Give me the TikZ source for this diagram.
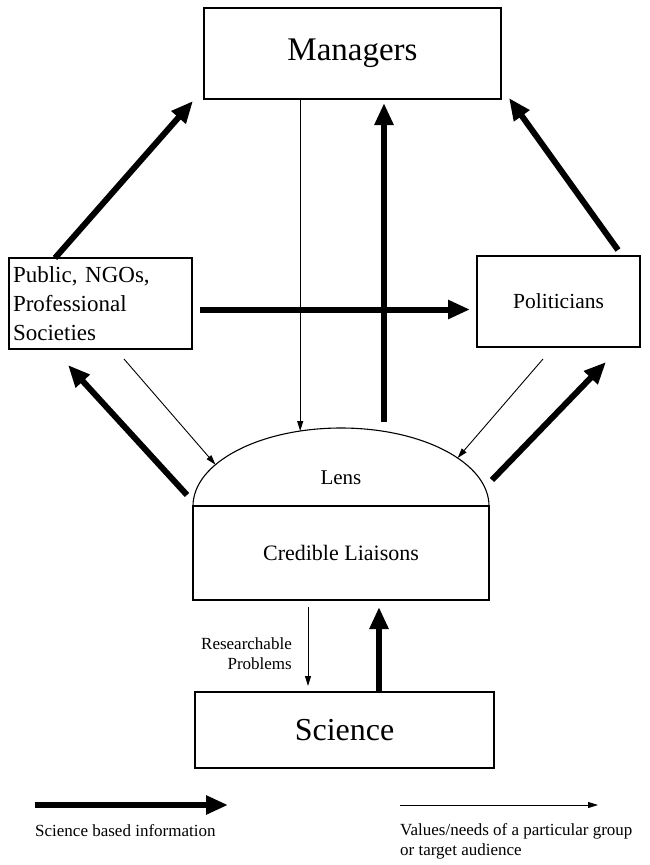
\documentclass[tikz,border=0pt]{standalone}
\usepackage{fontspec}
\setmainfont{Liberation Serif}
\usetikzlibrary{arrows.meta,positioning,calc}

\begin{document}
\begin{tikzpicture}[x=1pt, y=-1pt,
    block/.style={rectangle, draw, line width=1.1pt, outer sep=0pt, inner sep=4pt},
    fatline/.style={draw, line width=6pt, -{Triangle[length=22pt,width=18pt]}},
    thinline/.style={draw, line width=0.9pt, -{Triangle[length=10pt,width=6pt]}}]

    \useasboundingbox (0,0) rectangle (650,865);

    \node [block, minimum width=297pt, minimum height=91pt, font=\fontsize{33}{40}\selectfont] (mgr) at (352.5,53.5) {Managers};
    \node [block, minimum width=183pt, minimum height=91pt, text width=175pt, align=left, font=\fontsize{23}{29}\selectfont] (pub) at (100.5,303.5) {Public, NGOs,\\Professional\\Societies};
    \node [block, minimum width=163pt, minimum height=91pt, font=\fontsize{21.5}{26}\selectfont] (pol) at (558.5,301.5) {Politicians};
    \node [block, minimum width=296pt, minimum height=94pt, font=\fontsize{22}{26}\selectfont] (liaison) at (341,553) {Credible Liaisons};
    \node [block, minimum width=299pt, minimum height=76pt, font=\fontsize{32}{38}\selectfont] (sci) at (344.5,730) {Science};

    % lens on top of the liaisons
    \draw [line width=1.1pt] (liaison.north west) arc [start angle=180, end angle=0, x radius=148pt, y radius=78pt];
    \node [font=\fontsize{21}{25}\selectfont] (lens) at (341,478) {Lens};

    \coordinate (lensA) at ($(liaison.north)+({148*cos(106)},{-78*sin(106)})$);
    \coordinate (lensB) at ($(liaison.north)+({148*cos(148)},{-78*sin(148)})$);
    \coordinate (lensC) at ($(liaison.north)+({148*cos(38)},{-78*sin(38)})$);
    \coordinate (upA) at ($(liaison.north)+(43,-84)$);

    \path [fatline] ($(pub.north west)+(46,0)$) -- ($(mgr.south west)+(-11,2)$);
    \path [thinline] (lensA |- mgr.south) -- (lensA);
    \path [fatline] (upA) -- ($(upA |- mgr.south)+(0,4)$);
    \path [fatline] ($(pol.north west)+(141,-6)$) -- ($(mgr.south east)+(8,-1)$);
    \path [fatline] ($(pub.east)+(8,6)$) -- ($(pol.west)+(-7,8)$);
    \path [fatline] ($(liaison.north west)+(-6,-11)$) -- ($(pub.south west)+(59,16)$);
    \path [thinline] ($(pub.south west)+(115,10)$) -- (lensB);
    \path [thinline] ($(pol.south west)+(66,12)$) -- (lensC);
    \path [fatline] ($(liaison.north east)+(3,-26)$) -- ($(pol.south west)+(129,15)$);

    % liaisons and science
    \coordinate (rpA) at ($(liaison.south)+(-33,7)$);
    \coordinate (sciA) at ($(sci.north)+(34.5,0)$);
    \path [thinline] (rpA) -- ($(rpA |- sci.north)+(0,-6)$);
    \node [anchor=east, align=right, inner sep=0pt, font=\fontsize{17}{20}\selectfont] (rp) at ($(rpA)+(-16,47)$) {Researchable\\Problems};
    \path [fatline] (sciA) -- ($(sciA |- liaison.south)+(0,7)$);

    % key
    \coordinate (keyA) at (35,805);
    \coordinate (keyB) at (228,805);
    \coordinate (keyC) at (400,805);
    \coordinate (keyD) at (598,805);
    \path [fatline] (keyA) -- (keyB);
    \path [thinline] (keyC) -- (keyD);
    \node [anchor=base west, inner sep=0pt, font=\fontsize{17}{20}\selectfont] (keySci) at (35,836) {Science based information};
    \node [anchor=north west, align=left, inner sep=0pt, font=\fontsize{17}{20}\selectfont] (keyVal) at (400,823) {Values/needs of a particular group\\or target audience};
\end{tikzpicture}
\end{document}
